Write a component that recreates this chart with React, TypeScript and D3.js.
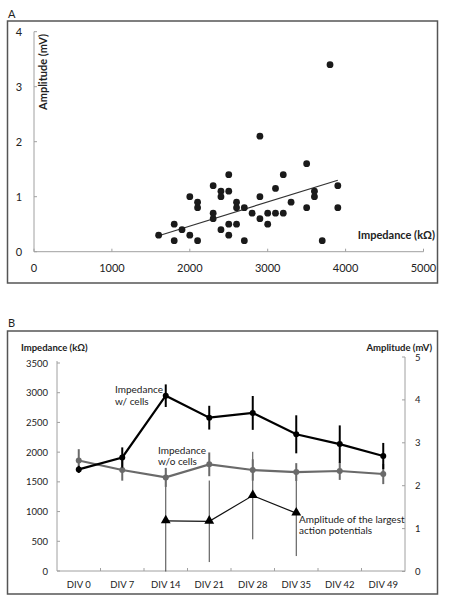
import React from "react";
import * as d3 from "d3";

// ---------- Panel A data ----------
const impedanceA = [1600,1800,1800,1900,2000,2000,2100,2100,2100,2300,2300,2300,2400,2400,2400,2500,2500,2500,2500,2600,2600,2600,2700,2700,2800,2900,2900,2900,3000,3000,3100,3100,3200,3200,3300,3500,3500,3600,3600,3700,3800,3900,3900];
const amplitudeA = [0.3,0.5,0.2,0.4,1.0,0.3,0.9,0.8,0.2,1.2,0.7,0.6,1.1,1.0,0.4,1.4,1.1,0.5,0.3,0.9,0.8,0.5,0.8,0.2,0.7,2.1,1.0,0.6,0.7,0.5,1.15,0.7,1.4,0.7,0.9,1.6,0.8,1.1,1.0,0.2,3.4,1.2,0.8];
const trendX = [1600, 3900];
const trendY = [0.29, 1.3];
const xTicksA = [0, 1000, 2000, 3000, 4000, 5000];
const yTicksA = [0, 1, 2, 3, 4];

// ---------- Panel B data ----------
const days = ["DIV 0", "DIV 7", "DIV 14", "DIV 21", "DIV 28", "DIV 35", "DIV 42", "DIV 49"];
const withCells = [1710, 1910, 2950, 2580, 2660, 2300, 2135, 1935];
const withCellsErr = [60, 170, 190, 200, 285, 320, 315, 220];
const withoutCells = [1860, 1700, 1575, 1795, 1700, 1665, 1683, 1632];
const withoutCellsErr = [190, 180, 160, 200, 180, 150, 150, 170];
const ampDays = ["DIV 14", "DIV 21", "DIV 28", "DIV 35"];
const ampValues = [1.18, 1.17, 1.77, 1.36];
const ampErr = [1.2, 0.95, 1.02, 1.0];
const yTicksL = [0, 500, 1000, 1500, 2000, 2500, 3000, 3500];
const yTicksR = [0, 1, 2, 3, 4, 5];

const FONT = "Lato, 'Open Sans', sans-serif";

function PanelA() {
  const x = d3.scaleLinear().domain([0, 5000]).range([34, 423.5]);
  const y = d3.scaleLinear().domain([0, 4]).range([251.7, 31.7]);
  const axisC = "#a0a0a0";
  const trend = d3.line<number>().x((d, i) => x(trendX[i])).y((d, i) => y(trendY[i]));
  return (
    <g>
      <text x={8} y={18} fontSize={11} fontFamily={FONT} fill="#222">A</text>
      <rect x={7.5} y={21} width={430} height={262} fill="none" stroke="#555" strokeWidth={1.5} />
      <line x1={x(0)} x2={x(0)} y1={y(0)} y2={y(4)} stroke={axisC} strokeWidth={1} />
      <line x1={x(0)} x2={x(5000)} y1={y(0)} y2={y(0)} stroke={axisC} strokeWidth={1} />
      {yTicksA.map(t => (
        <g key={"ya" + t}>
          <line x1={x(0)} x2={x(0) + 3} y1={y(t)} y2={y(t)} stroke={axisC} />
          <text x={19} y={y(t) + 4} fontSize={11} fontFamily={FONT} textAnchor="middle" fill="#222">{t}</text>
        </g>
      ))}
      {xTicksA.map(t => (
        <g key={"xa" + t}>
          <line x1={x(t)} x2={x(t)} y1={y(0)} y2={y(0) - 3} stroke={axisC} />
          <text x={x(t)} y={y(0) + 20} fontSize={11} fontFamily={FONT} textAnchor="middle" fill="#222">{t}</text>
        </g>
      ))}
      <text transform={`translate(47,72) rotate(-90)`} fontSize={11} fontWeight="bold" fontFamily={FONT} textAnchor="middle" fill="#222">Amplitude (mV)</text>
      <text x={435} y={239} fontSize={11} fontWeight="bold" fontFamily={FONT} textAnchor="end" fill="#222">Impedance (kΩ)</text>
      <path d={trend(trendX) || ""} stroke="#333" strokeWidth={1.2} fill="none" />
      {impedanceA.map((v, i) => (
        <circle key={"p" + i} cx={x(v)} cy={y(amplitudeA[i])} r={3.4} fill="#1a1a1a" />
      ))}
    </g>
  );
}

function PanelB() {
  const x = d3.scaleBand<string>().domain(days).range([57, 405]);
  const cx = (d: string) => (x(d) as number) + x.bandwidth() / 2;
  const yL = d3.scaleLinear().domain([0, 3500]).range([571, 363]);
  const yR = d3.scaleLinear().domain([0, 5]).range([571.5, 357]);
  const axisC = "#a0a0a0";
  const grayC = "#6a6a6a";
  const lineW = d3.line<number>().x((d, i) => cx(days[i])).y(d => yL(d));
  const lineA = d3.line<number>().x((d, i) => cx(ampDays[i])).y(d => yR(d));
  const tri = d3.symbol().type(d3.symbolTriangle).size(42)() || "";
  return (
    <g>
      <text x={8} y={327} fontSize={11} fontFamily={FONT} fill="#222">B</text>
      <rect x={7.5} y={331} width={430} height={263} fill="none" stroke="#555" strokeWidth={1.5} />
      {/* axes */}
      <line x1={57} x2={57} y1={yL(0)} y2={361} stroke={axisC} />
      <line x1={405} x2={405} y1={yR(0)} y2={yR(5)} stroke={axisC} />
      <line x1={57} x2={405} y1={yL(0)} y2={yL(0)} stroke={axisC} />
      {yTicksL.map(t => (
        <g key={"yl" + t}>
          <line x1={57} x2={60} y1={yL(t)} y2={yL(t)} stroke={axisC} />
          <text x={48} y={yL(t) + 3.5} fontSize={9.5} fontFamily={FONT} textAnchor="end" fill="#222">{t}</text>
        </g>
      ))}
      {yTicksR.map(t => (
        <g key={"yr" + t}>
          <line x1={402} x2={405} y1={yR(t)} y2={yR(t)} stroke={axisC} />
          <text x={415} y={yR(t) + 3.5} fontSize={9.5} fontFamily={FONT} textAnchor="start" fill="#222">{t}</text>
        </g>
      ))}
      {days.map((d, i) => (
        <g key={"xb" + d}>
          {i > 0 && <line x1={x(d) as number} x2={x(d) as number} y1={yL(0)} y2={yL(0) - 3} stroke={axisC} />}
          <text x={cx(d)} y={588} fontSize={9.5} fontFamily={FONT} textAnchor="middle" fill="#222">{d}</text>
        </g>
      ))}
      <text x={21} y={351} fontSize={9.5} fontWeight="bold" fontFamily={FONT} fill="#222">Impedance (kΩ)</text>
      <text x={432} y={351} fontSize={9.5} fontWeight="bold" fontFamily={FONT} textAnchor="end" fill="#222">Amplitude (mV)</text>

      {/* amplitude series */}
      {ampDays.map((d, i) => (
        <line key={"ae" + d} x1={cx(d)} x2={cx(d)} y1={yR(Math.max(0, ampValues[i] - ampErr[i]))} y2={yR(ampValues[i] + ampErr[i])} stroke="#444" strokeWidth={1} />
      ))}
      <path d={lineA(ampValues) || ""} stroke="#111" strokeWidth={1.2} fill="none" />
      {ampDays.map((d, i) => (
        <path key={"at" + d} d={tri} transform={`translate(${cx(d)},${yR(ampValues[i]) - 0.5})`} fill="#000" />
      ))}

      {/* without cells */}
      {days.map((d, i) => (
        <line key={"we" + d} x1={cx(d)} x2={cx(d)} y1={yL(withoutCells[i] - withoutCellsErr[i])} y2={yL(withoutCells[i] + withoutCellsErr[i])} stroke={grayC} strokeWidth={2} />
      ))}
      <path d={lineW(withoutCells) || ""} stroke={grayC} strokeWidth={2.2} fill="none" />
      {days.map((d, i) => (
        <circle key={"wc" + d} cx={cx(d)} cy={yL(withoutCells[i])} r={3} fill={grayC} />
      ))}

      {/* with cells */}
      {days.map((d, i) => (
        <line key={"ce" + d} x1={cx(d)} x2={cx(d)} y1={yL(withCells[i] - withCellsErr[i])} y2={yL(withCells[i] + withCellsErr[i])} stroke="#000" strokeWidth={2} />
      ))}
      <path d={lineW(withCells) || ""} stroke="#000" strokeWidth={2.2} fill="none" />
      {days.map((d, i) => (
        <circle key={"cc" + d} cx={cx(d)} cy={yL(withCells[i])} r={3} fill="#000" />
      ))}

      {/* annotations */}
      <text fontSize={10} fontFamily={FONT} fill="#222">
        <tspan x={115} y={393}>Impedance</tspan>
        <tspan x={115} y={405}>w/ cells</tspan>
      </text>
      <text fontSize={10} fontFamily={FONT} fill="#222">
        <tspan x={158} y={454}>Impedance</tspan>
        <tspan x={158} y={465}>w/o cells</tspan>
      </text>
      <text fontSize={10} fontFamily={FONT} fill="#222">
        <tspan x={299} y={522.5}>Amplitude of the largest</tspan>
        <tspan x={299} y={534}>action potentials</tspan>
      </text>
    </g>
  );
}

export default function App() {
  return (
    <svg width={449} height={600} style={{ position: "absolute", left: 0, top: 0, background: "#fff" }}>
      <rect x={0} y={0} width={449} height={600} fill="#fff" />
      <PanelA />
      <PanelB />
    </svg>
  );
}
